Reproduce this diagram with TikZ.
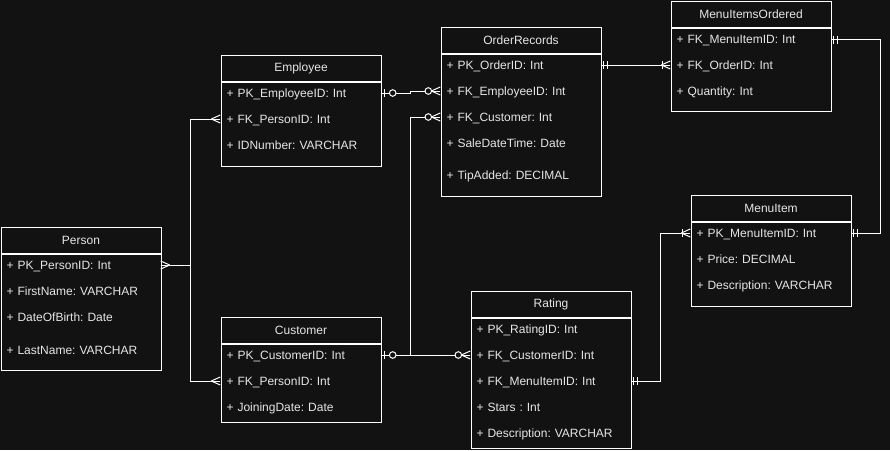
\documentclass[tikz,border=0pt]{standalone}
\usepackage{fontspec}
\setmainfont{Liberation Sans}
\frenchspacing
\definecolor{bg}{HTML}{121212}
\definecolor{fg}{HTML}{E6E6E6}
\tikzset{
  conn/.style={draw=white, line width=1pt},
  hdr/.style={draw=white, line width=1pt, fill=bg, text=fg, minimum width=160pt, minimum height=26pt, inner sep=0pt, anchor=north west, font=\fontsize{12}{14}\selectfont},
  tbody/.style={draw=white, line width=1pt, fill=bg, minimum width=160pt, inner sep=0pt, anchor=north west},
  row/.style={text=fg, minimum height=26pt, inner ysep=0pt, inner xsep=6pt, text width=148pt, text height=8.6pt, text depth=0pt, align=left, font=\fontsize{12}{14}\selectfont},
}
% marker parts in local coordinates: +x points into the entity, origin on its border
\newcommand\crowf{\draw[conn] (-9,0) -- (0,-4) (-9,0) -- (0,4);}
\newcommand\barat[1]{\draw[conn] (-#1,-4) -- (-#1,4);}
\newcommand\circat[1]{\draw[conn, fill=bg] (-#1,0) circle (3.3pt);}
\newcommand\mManyEnd{\crowf}
\newcommand\mZeroMany{\crowf\circat{12}}
\newcommand\mZeroOne{\barat{4}\circat{12}}
\newcommand\mMandOne{\barat{3}\barat{7}}
\newcommand\mOneMany{\crowf\barat{8}}
\newcommand\mk[3]{\begin{scope}[shift={(#2)}, xscale=#3]#1\end{scope}}
\begin{document}
\begin{tikzpicture}[x=1pt,y=-1pt]
\fill[bg] (0,0) rectangle (890,450);
\useasboundingbox (0,0) rectangle (890,450);

% Person
\node[hdr] (person) at (0.5,226.5) {Person};
\node[tbody, minimum height=116pt] (person-b) at (person.south west) {};
\node[row] (p1) at (80.5,265) {+ PK\_PersonID: Int};
\node[row] (p2) at (80.5,291) {+ FirstName: VARCHAR};
\node[row] (p3) at (80.5,317) {+ DateOfBirth: Date};
\node[row] (p4) at (80.5,350) {+ LastName: VARCHAR};

% Employee
\node[hdr] (employee) at (220.5,54.5) {Employee};
\node[tbody, minimum height=84pt] (employee-b) at (employee.south west) {};
\node[row] (e1) at (300.5,93) {+ PK\_EmployeeID: Int};
\node[row] (e2) at (300.5,119) {+ FK\_PersonID: Int};
\node[row] (e3) at (300.5,145) {+ IDNumber: VARCHAR};

% Customer
\node[hdr] (customer) at (220.5,316.5) {Customer};
\node[tbody, minimum height=78pt] (customer-b) at (customer.south west) {};
\node[row] (c1) at (300.5,355) {+ PK\_CustomerID: Int};
\node[row] (c2) at (300.5,381) {+ FK\_PersonID: Int};
\node[row] (c3) at (300.5,407) {+ JoiningDate: Date};

% OrderRecords
\node[hdr] (orders) at (440.5,26.5) {OrderRecords};
\node[tbody, minimum height=142pt] (orders-b) at (orders.south west) {};
\node[row] (o1) at (520.5,65) {+ PK\_OrderID: Int};
\node[row] (o2) at (520.5,91) {+ FK\_EmployeeID: Int};
\node[row] (o3) at (520.5,117) {+ FK\_Customer: Int};
\node[row] (o4) at (520.5,143) {+ SaleDateTime: Date};
\node[row] (o5) at (520.5,175) {+ TipAdded: DECIMAL};

% MenuItemsOrdered
\node[hdr] (mio) at (670.5,0.5) {MenuItemsOrdered};
\node[tbody, minimum height=83.5pt] (mio-b) at (mio.south west) {};
\node[row] (m1) at (750.5,39.5) {+ FK\_MenuItemID: Int};
\node[row] (m2) at (750.5,65) {+ FK\_OrderID: Int};
\node[row] (m3) at (750.5,91) {+ Quantity: Int};

% MenuItem
\node[hdr] (menuitem) at (690.5,194.5) {MenuItem};
\node[tbody, minimum height=84pt] (menuitem-b) at (menuitem.south west) {};
\node[row] (i1) at (770.5,233) {+ PK\_MenuItemID: Int};
\node[row] (i2) at (770.5,259) {+ Price: DECIMAL};
\node[row] (i3) at (770.5,285) {+ Description: VARCHAR};

% Rating
\node[hdr] (rating) at (470.5,290.5) {Rating};
\node[tbody, minimum height=130pt] (rating-b) at (rating.south west) {};
\node[row] (r1) at (550.5,329) {+ PK\_RatingID: Int};
\node[row] (r2) at (550.5,355) {+ FK\_CustomerID: Int};
\node[row] (r3) at (550.5,381) {+ FK\_MenuItemID: Int};
\node[row] (r4) at (550.5,407) {+ Stars : Int};
\node[row] (r5) at (550.5,433) {+ Description: VARCHAR};

% routing coordinates
\coordinate (busx) at (190.5,0);
\coordinate (jogx) at (410.5,0);
\coordinate (rightx) at (880.5,0);
\coordinate (midx) at (660.5,0);

% connectors
\draw[conn] (p1.east) -- (busx |- p1.east) |- (e2.west);
\draw[conn] (busx |- p1.east) |- (c2.west);
\draw[conn] (e1.east) -- (jogx |- e1.east) -- (jogx |- o2.west) -- (o2.west);
\draw[conn] (c1.east) -- (jogx |- c1.east) |- (o3.west);
\draw[conn] (c1.east) -- (r2.west);
\draw[conn] (o1.east) -- (m2.west);
\draw[conn] (m1.east) -- (rightx |- m1.east) |- (i1.east);
\draw[conn] (r3.east) -- (midx |- r3.east) |- (i1.west);

% markers
\mk{\mManyEnd}{p1.east}{-1}
\mk{\mManyEnd}{e2.west}{1}
\mk{\mManyEnd}{c2.west}{1}
\mk{\mZeroOne}{e1.east}{-1}
\mk{\mZeroMany}{o2.west}{1}
\mk{\mZeroOne}{c1.east}{-1}
\mk{\mZeroMany}{o3.west}{1}
\mk{\mZeroMany}{r2.west}{1}
\mk{\mMandOne}{o1.east}{-1}
\mk{\mOneMany}{m2.west}{1}
\mk{\mMandOne}{m1.east}{-1}
\mk{\mMandOne}{i1.east}{-1}
\mk{\mMandOne}{r3.east}{-1}
\mk{\mOneMany}{i1.west}{1}
\end{tikzpicture}
\end{document}
